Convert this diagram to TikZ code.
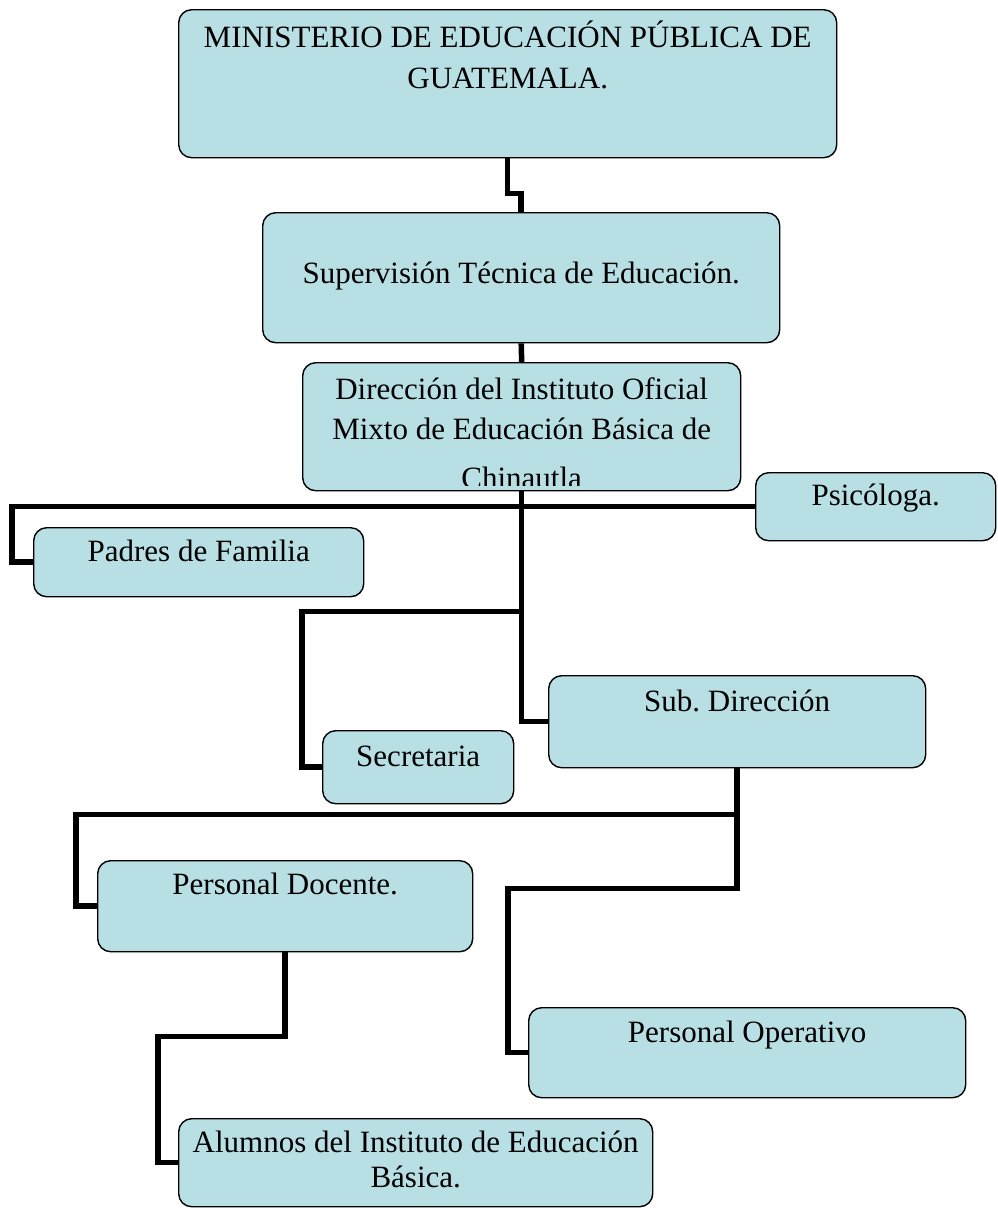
\documentclass[tikz,border=0pt]{standalone}
\usepackage{fontspec}
\setmainfont{Liberation Serif}
\definecolor{cajaazul}{RGB}{184,223,228}

\tikzset{
  caja/.style={draw, fill=cajaazul, rounded corners=13pt, line width=1.4pt,
    inner sep=0pt, align=center, anchor=north west,
    font=\fontsize{31}{40}\selectfont},
  enlace/.style={line width=5.5pt, line join=miter, line cap=butt},
}

\begin{document}
\begin{tikzpicture}[x=1pt, y=-1pt]
  % ════ 方框（左上角定位；text height = 末行基线到上边，text depth = 其余高度）════
  \node[caja, minimum width=658pt, text height=79pt, text depth=69pt,
        font=\fontsize{31}{41}\selectfont] (min) at (178,9)
    {MINISTERIO DE EDUCACIÓN PÚBLICA DE\\GUATEMALA.};
  \node[caja, minimum width=517pt, text height=71pt, text depth=59pt] (sup) at (262,212)
    {Supervisión Técnica de Educación.};
  % 末行 "Chinautla" 被下边框截断：放进 path picture 里裁掉底部
  \node[caja, minimum width=438pt, text height=77pt, text depth=51pt,
        path picture={
          \clip (path picture bounding box.north west)
                rectangle ([yshift=5pt]path picture bounding box.south east);
          \node[anchor=base, inner sep=0pt, font=\fontsize{31}{40}\selectfont] (chin)
            at ([yshift=2pt]path picture bounding box.south) {Chinautla};
        }] (dir) at (302,362)
    {Dirección del Instituto Oficial\\Mixto de Educación Básica de};
  \node[caja, minimum width=240pt, text height=33pt, text depth=35pt] (psi) at (755,472)
    {Psicóloga.};
  \node[caja, minimum width=330pt, text height=34pt, text depth=35pt] (pad) at (33,527)
    {Padres de Familia};
  \node[caja, minimum width=191pt, text height=36pt, text depth=37pt] (sec) at (322,730)
    {Secretaria};
  \node[caja, minimum width=377pt, text height=36pt, text depth=56pt] (sub) at (548,675)
    {Sub.\ Dirección};
  \node[caja, minimum width=375pt, text height=34pt, text depth=57pt] (doc) at (97,860)
    {Personal Docente.};
  \node[caja, minimum width=437pt, text height=35pt, text depth=55pt] (ope) at (528,1007)
    {Personal Operativo};
  \node[caja, minimum width=474pt, text height=69pt, text depth=19pt,
        font=\fontsize{31}{35}\selectfont] (alu) at (178,1118)
    {Alumnos del Instituto de Educación\\Básica.};

  % ════ 连线（粗黑折线）════
  \draw[enlace] (min.south) -- ++(0,35) -| (sup.north);
  \draw[enlace] (sup.south) -- (dir.north);
  \draw[enlace] (dir.south) |- (sub.west);                        % 主干
  \draw[enlace] (pad.west) -- ++(-21,0) |- (psi.west);
  \draw[enlace] (sec.west) -- ++(-20,0) |- ([yshift=-120pt]dir.south);
  \draw[enlace] (doc.west) -- ++(-21,0) |- ([yshift=-46pt]sub.south) -- (sub.south);
  \draw[enlace] (ope.west) -- ++(-20,0) |- ([yshift=-120pt]sub.south) -- (sub.south);
  \draw[enlace] (alu.west) -- ++(-20,0) |- ([yshift=-84pt]doc.south) -- (doc.south);

  % 钉死画布
  \path[use as bounding box] (0,0) rectangle (997,1208);
\end{tikzpicture}
\end{document}
